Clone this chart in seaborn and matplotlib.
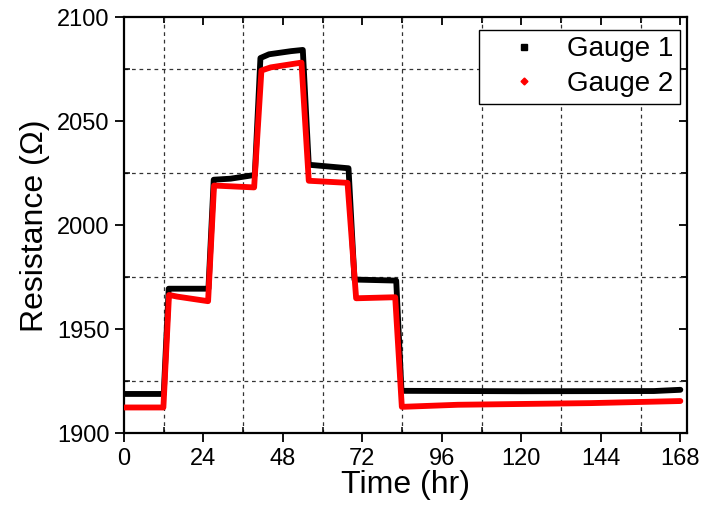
import numpy as np
import pandas as pd
import matplotlib
matplotlib.use("Agg")
import matplotlib.pyplot as plt
from matplotlib.lines import Line2D
from matplotlib.ticker import MultipleLocator
import seaborn as sns

# Gauge 1 resistance readings (hr, ohm)
time_gauge1 = [0, 12.0, 13.5, 25.5, 27.1, 32.2, 39.5, 41.2, 43.8, 50.4, 54.0, 55.8, 67.8, 69.6,
               82.2, 83.8, 120.0, 160.0, 168.0]
res_gauge1 = [1919.0, 1919.0, 1969.6, 1969.6, 2022.0, 2022.5, 2024.3, 2080.5, 2082.3, 2083.8, 2084.4,
              2029.2, 2027.5, 1974.0, 1973.5, 1920.5, 1920.3, 1920.4, 1921.0]

# Gauge 2 resistance readings (hr, ohm)
time_gauge2 = [0, 11.9, 13.6, 16.1, 25.4, 27.2, 39.3, 41.5, 44.3, 53.6, 55.8, 67.5, 70.1, 81.9,
               83.9, 100.8, 141.0, 168.0]
res_gauge2 = [1912.5, 1912.5, 1966.6, 1965.8, 1963.6, 2019.2, 2018.3, 2074.5, 2076.0, 2078.3, 2021.5,
              2020.5, 1965.0, 1965.5, 1912.8, 1913.8, 1914.6, 1915.6]

series_names = ["Gauge 1", "Gauge 2"]
series_colors = ["#000000", "#ff0000"]

x_ticks = [0, 24, 48, 72, 96, 120, 144, 168]
y_ticks = [1900, 1950, 2000, 2050, 2100]

df = pd.concat([
    pd.DataFrame({"Time": time_gauge1, "Resistance": res_gauge1, "Gauge": series_names[0]}),
    pd.DataFrame({"Time": time_gauge2, "Resistance": res_gauge2, "Gauge": series_names[1]}),
], ignore_index=True)

sns.set_theme(style="ticks")
plt.rcParams["font.family"] = ["Liberation Sans", "DejaVu Sans"]
plt.rcParams["text.color"] = "black"
plt.rcParams["axes.labelcolor"] = "black"
plt.rcParams["xtick.color"] = "black"
plt.rcParams["ytick.color"] = "black"

fig = plt.figure(figsize=(7.02, 5.08), dpi=100)
ax = fig.add_axes([0.1766, 0.1467, 0.8020, 0.8189])

sns.lineplot(data=df, x="Time", y="Resistance", hue="Gauge",
             palette=dict(zip(series_names, series_colors)),
             linewidth=4.2, legend=False, ax=ax, sort=False, zorder=3)

ax.set_xlim(0, 170)
ax.set_ylim(1900, 2100)
ax.set_xticks(x_ticks)
ax.set_yticks(y_ticks)
ax.xaxis.set_minor_locator(MultipleLocator(12))
ax.yaxis.set_minor_locator(MultipleLocator(25))

ax.grid(which="minor", color="#333333", linestyle=(0, (3, 3)), linewidth=0.9)
ax.grid(which="major", visible=False)

for sp in ax.spines.values():
    sp.set_visible(True)
    sp.set_linewidth(1.6)
    sp.set_color("black")

ax.tick_params(which="major", direction="out", length=6.5, width=1.3, labelsize=17,
               colors="black", pad=4)
ax.tick_params(which="minor", direction="in", length=4, width=1.1)

# inward ticks on the top and right edges
top = ax.secondary_xaxis("top")
top.set_xticks(x_ticks)
top.xaxis.set_minor_locator(MultipleLocator(12))
top.tick_params(which="both", direction="in", length=6, width=1.3, labeltop=False)
top.tick_params(which="minor", length=4)
right = ax.secondary_yaxis("right")
right.set_yticks(y_ticks)
right.yaxis.set_minor_locator(MultipleLocator(25))
right.tick_params(which="both", direction="in", length=6, width=1.3, labelright=False)
right.tick_params(which="minor", length=4)

ax.set_xlabel("Time (hr)", fontsize=23, labelpad=0, color="black")
ax.set_ylabel("Resistance (\u03a9)", fontsize=23, labelpad=5, color="black")

handles = [
    Line2D([], [], linestyle="none", marker="s", markersize=4, color=series_colors[0]),
    Line2D([], [], linestyle="none", marker="D", markersize=3.5, color=series_colors[1]),
]
leg = ax.legend(handles, series_names, loc="upper right", fontsize=20, frameon=True,
                fancybox=False, borderpad=0.25, handletextpad=0.2, labelspacing=0.3,
                handlelength=2.7, borderaxespad=0.0, bbox_to_anchor=(0.9876, 0.971))
leg.get_frame().set_edgecolor("black")
leg.get_frame().set_linewidth(1.0)
leg.get_frame().set_alpha(1)
for t in leg.get_texts():
    t.set_color("black")

fig.savefig("out.png", dpi=100)
